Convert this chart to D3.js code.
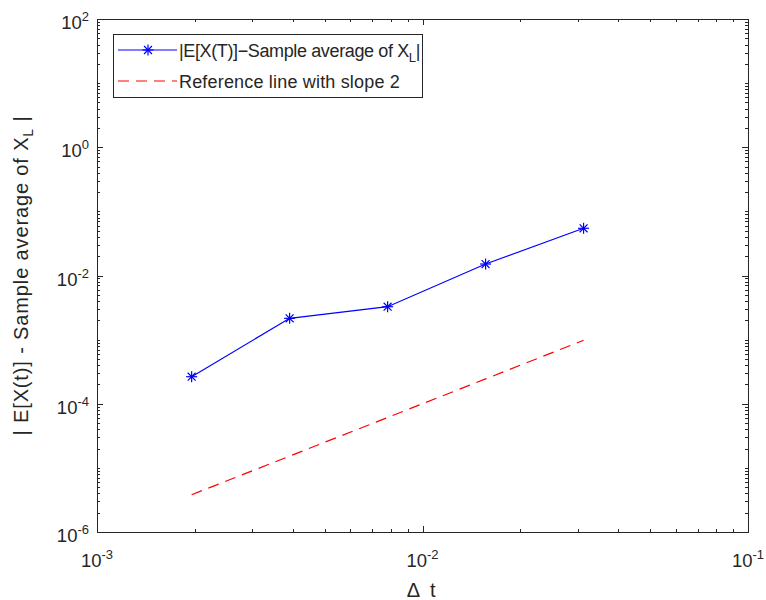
<!DOCTYPE html>
<html>
<head>
<meta charset="utf-8">
<script src="https://cdn.jsdelivr.net/npm/d3@7"></script>
<style>
  body { margin: 0; background: #fff; }
  text { font-family: "Liberation Sans", Arial, sans-serif; fill: #262626; }
</style>
</head>
<body>
<svg id="chart"></svg>
<script>
// step sizes (2^-9 .. 2^-5)
var dt = [0.001953125, 0.00390625, 0.0078125, 0.015625, 0.03125];
// |E[X(T)] - sample average|
var errValues = [2.64e-4, 2.15e-3, 3.26e-3, 1.51e-2, 5.45e-2];
// reference line, slope 2
var refValues = [3.815e-6, 1.526e-5, 6.104e-5, 2.441e-4, 9.766e-4];

var xDomain = [1e-3, 1e-1],
    yDomain = [1e-6, 1e2];
var xLabelExps = [-3, -2, -1],
    yLabelExps = [-6, -4, -2, 0, 2];

var legendLabels = ["|E[X(T)]\u2212Sample average of X", "Reference line with slope 2"];

// note: "top" is reserved on window, so use plot* names
var W = 766, H = 600,
    plotL = 97, plotR = 748, plotT = 19, plotB = 532,
    axisColor = "#262626";

var svg = d3.select("#chart").attr("width", W).attr("height", H);
svg.append("rect").attr("width", W).attr("height", H).attr("fill", "#fff");

var x = d3.scaleLog().domain(xDomain).range([plotL, plotR]);
var y = d3.scaleLog().domain(yDomain).range([plotB, plotT]);

// stretch/squeeze a text to a given width with letter-spacing
function fitWidth(sel, target) {
  var w = sel.node().getBBox().width;
  var n = sel.text().length;
  sel.style("letter-spacing", ((target - w) / n) + "px");
}

// minor tick positions (2..9 in each decade, plus unlabelled decades)
function minorTicks(domain, labelled) {
  var out = [];
  var lo = Math.round(Math.log10(domain[0])), hi = Math.round(Math.log10(domain[1]));
  for (var e = lo; e < hi; e++) {
    for (var k = 1; k <= 9; k++) {
      if (k == 1 && labelled.indexOf(e) >= 0) continue;
      out.push(k * Math.pow(10, e));
    }
  }
  return out;
}
var xMinor = minorTicks(xDomain, xLabelExps),
    yMinor = minorTicks(yDomain, yLabelExps);
var xMajor = xLabelExps.map(function(e) { return Math.pow(10, e); }),
    yMajor = yLabelExps.map(function(e) { return Math.pow(10, e); });

var ticks = svg.append("g").attr("stroke", axisColor).attr("stroke-width", 1);

function xTicks(vals, len) {
  vals.forEach(function(v) {
    var px = Math.round(x(v)) + 0.5;
    ticks.append("line").attr("x1", px).attr("x2", px).attr("y1", plotB).attr("y2", plotB - len);
    ticks.append("line").attr("x1", px).attr("x2", px).attr("y1", plotT).attr("y2", plotT + len);
  });
}
function yTicks(vals, len) {
  vals.forEach(function(v) {
    var py = Math.round(y(v)) + 0.5;
    ticks.append("line").attr("y1", py).attr("y2", py).attr("x1", plotL).attr("x2", plotL + len);
    ticks.append("line").attr("y1", py).attr("y2", py).attr("x1", plotR).attr("x2", plotR - len);
  });
}
xTicks(xMinor, 3); xTicks(xMajor, 6);
yTicks(yMinor, 3); yTicks(yMajor, 6);

// box
svg.append("rect")
  .attr("x", plotL + 0.5).attr("y", plotT + 0.5)
  .attr("width", plotR - plotL).attr("height", plotB - plotT)
  .attr("fill", "none").attr("stroke", axisColor).attr("stroke-width", 1);

// tick labels
xLabelExps.forEach(function(e) {
  var t = svg.append("text").attr("x", x(Math.pow(10, e))).attr("y", 567)
    .attr("text-anchor", "middle").style("font-size", "18.5px");
  t.append("tspan").text("10");
  t.append("tspan").attr("dy", -8).style("font-size", "13px").text(e);
});
yLabelExps.forEach(function(e) {
  var t = svg.append("text").attr("x", 89).attr("y", y(Math.pow(10, e)) + 10)
    .attr("text-anchor", "end").style("font-size", "18.5px");
  t.append("tspan").text("10");
  t.append("tspan").attr("dy", -8).style("font-size", "13px").text(e);
});

// axis labels
var xl = svg.append("text").attr("x", (plotL + plotR) / 2).attr("y", 597)
  .attr("text-anchor", "middle").style("font-size", "20px").text("\u0394 t");
fitWidth(xl, 32);

var yl = svg.append("text")
  .attr("transform", "translate(28," + ((plotT + plotB) / 2) + ") rotate(-90)")
  .attr("text-anchor", "middle").style("font-size", "20px");
yl.append("tspan").text("| E[X(t)] - Sample average of X");
yl.append("tspan").attr("dy", 5).style("font-size", "14px").text("L");
yl.append("tspan").attr("dy", -5).text(" |");
fitWidth(yl, 320);

// series
var line = d3.line()
  .x(function(d) { return x(d[0]); })
  .y(function(d) { return y(d[1]); });

svg.append("path")
  .datum(d3.zip(dt, refValues))
  .attr("d", line)
  .attr("fill", "none").attr("stroke", "#ff0000").attr("stroke-width", 1.2)
  .attr("stroke-dasharray", "11,7");

svg.append("path")
  .datum(d3.zip(dt, errValues))
  .attr("d", line)
  .attr("fill", "none").attr("stroke", "#0000ff").attr("stroke-width", 1.2);

function star(g, cx, cy, r) {
  var d = r * 0.72;
  var s = g.append("g").attr("stroke", "#0000ff").attr("stroke-width", 1.2);
  s.append("line").attr("x1", cx).attr("x2", cx).attr("y1", cy - r).attr("y2", cy + r);
  s.append("line").attr("x1", cx - r).attr("x2", cx + r).attr("y1", cy).attr("y2", cy);
  s.append("line").attr("x1", cx - d).attr("x2", cx + d).attr("y1", cy - d).attr("y2", cy + d);
  s.append("line").attr("x1", cx - d).attr("x2", cx + d).attr("y1", cy + d).attr("y2", cy - d);
}
var markers = svg.append("g");
dt.forEach(function(v, i) { star(markers, x(v), y(errValues[i]), 5.5); });

// legend
var lg = svg.append("g");
lg.append("rect").attr("x", 113.5).attr("y", 34.5).attr("width", 309).attr("height", 63)
  .attr("fill", "#fff").attr("stroke", axisColor).attr("stroke-width", 1);
lg.append("line").attr("x1", 118).attr("x2", 177).attr("y1", 50).attr("y2", 50)
  .attr("stroke", "#0000ff").attr("stroke-width", 1.2);
star(lg, 148, 50, 5.5);
lg.append("line").attr("x1", 118).attr("x2", 177).attr("y1", 81).attr("y2", 81)
  .attr("stroke", "#ff0000").attr("stroke-width", 1.2).attr("stroke-dasharray", "11,7");

var t1 = lg.append("text").attr("x", 179).attr("y", 56.5).style("font-size", "18px");
t1.append("tspan").text(legendLabels[0]);
t1.append("tspan").attr("dy", 5).style("font-size", "13px").text("L");
t1.append("tspan").attr("dy", -5).text("|");
fitWidth(t1, 241);
var t2 = lg.append("text").attr("x", 179).attr("y", 87.5).style("font-size", "18px").text(legendLabels[1]);
fitWidth(t2, 221);
</script>
</body>
</html>
